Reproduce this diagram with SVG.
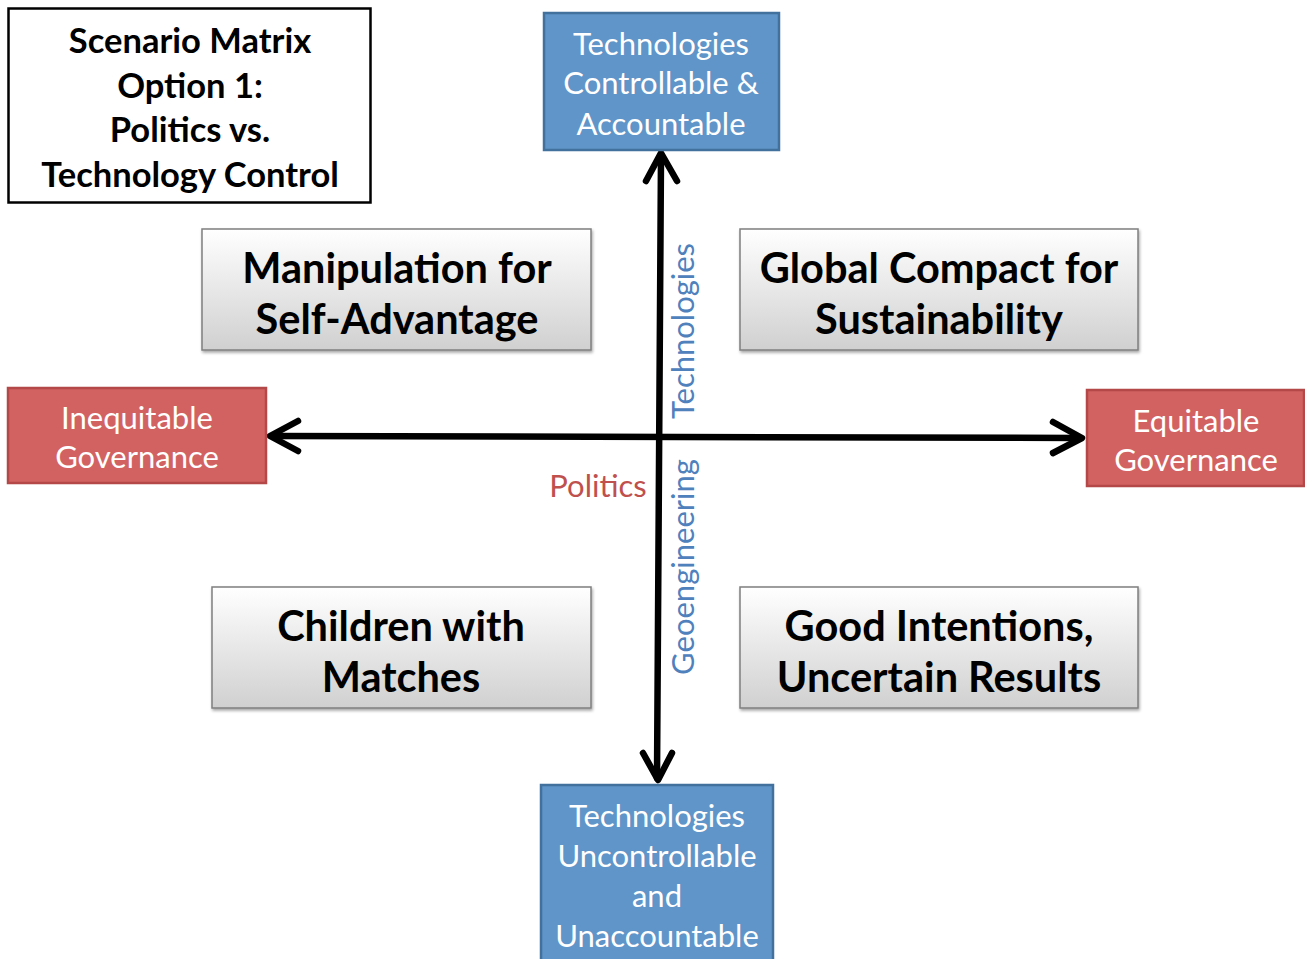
<svg xmlns="http://www.w3.org/2000/svg" width="1305" height="959" viewBox="0 0 1305 959">
<defs>
<linearGradient id="gray" x1="0" y1="0" x2="0" y2="1">
<stop offset="0" stop-color="#FFFFFF"/>
<stop offset="1" stop-color="#D0D0D0"/>
</linearGradient>
<filter id="sh" x="-5%" y="-5%" width="110%" height="115%">
<feDropShadow dx="1" dy="2" stdDeviation="1.5" flood-color="#000" flood-opacity="0.35"/>
</filter>
</defs>
<style>
text{font-family:"Lato","Liberation Sans",sans-serif;text-anchor:middle}
.title{font-size:34.5px;font-weight:bold;fill:#000}
.quad{font-size:41.5px;font-weight:bold;fill:#000}
.lbl{font-size:31px;fill:#FFFFFF}
.blue{fill:#5F95C8;stroke:#41719C;stroke-width:2.5}
.red{fill:#D26262;stroke:#B44848;stroke-width:2.5}
.grayb{fill:url(#gray);stroke:#7F7F7F;stroke-width:1.5}
.axis{font-size:31px}
.conn{stroke:#000;stroke-width:6.5;fill:none;stroke-linecap:round;stroke-linejoin:round}
</style>
<rect width="1305" height="959" fill="#FFFFFF"/>
<g id="connectors">
<line class="conn" x1="272" y1="436" x2="1080" y2="438"/>
<line class="conn" x1="661" y1="156" x2="657" y2="778"/>
<polyline class="conn" points="298,421 270,436 298,451"/>
<polyline class="conn" points="1053,422 1082,438 1053,453"/>
<polyline class="conn" points="646,181 661,153 677,181"/>
<polyline class="conn" points="643,753 658,780 672,753"/>
</g>
<g id="title">
<rect x="8.5" y="8.5" width="362" height="194" fill="#FFFFFF" stroke="#000" stroke-width="2.5"/>
<text class="title" x="190" y="53">Scenario Matrix</text>
<text class="title" x="190" y="98">Option 1:</text>
<text class="title" x="190" y="142">Politics vs.</text>
<text class="title" x="190" y="187">Technology Control</text>
</g>
<g id="top-node">
<rect class="blue" x="544" y="13" width="235" height="137"/>
<text class="lbl" x="661" y="55">Technologies</text>
<text class="lbl" x="661" y="94">Controllable &amp;</text>
<text class="lbl" x="661" y="135">Accountable</text>
</g>
<g id="bottom-node">
<rect class="blue" x="541" y="785" width="232" height="190"/>
<text class="lbl" x="657" y="827">Technologies</text>
<text class="lbl" x="657" y="867">Uncontrollable</text>
<text class="lbl" x="657" y="907">and</text>
<text class="lbl" x="657" y="947">Unaccountable</text>
</g>
<g id="left-node">
<rect class="red" x="8" y="388" width="258" height="95"/>
<text class="lbl" x="137" y="429">Inequitable</text>
<text class="lbl" x="137" y="468">Governance</text>
</g>
<g id="right-node">
<rect class="red" x="1087" y="390" width="217" height="96"/>
<text class="lbl" x="1196" y="432">Equitable</text>
<text class="lbl" x="1196" y="471">Governance</text>
</g>
<g id="q-manipulation">
<rect class="grayb" x="202" y="229" width="389" height="121" filter="url(#sh)"/>
<text class="quad" x="397" y="283">Manipulation for</text>
<text class="quad" x="397" y="334">Self-Advantage</text>
</g>
<g id="q-global">
<rect class="grayb" x="740" y="229" width="398" height="121" filter="url(#sh)"/>
<text class="quad" x="939" y="283">Global Compact for</text>
<text class="quad" x="939" y="334">Sustainability</text>
</g>
<g id="q-children">
<rect class="grayb" x="212" y="587" width="379" height="121" filter="url(#sh)"/>
<text class="quad" x="401" y="641">Children with</text>
<text class="quad" x="401" y="692">Matches</text>
</g>
<g id="q-good">
<rect class="grayb" x="740" y="587" width="398" height="121" filter="url(#sh)"/>
<text class="quad" x="939" y="641">Good Intentions,</text>
<text class="quad" x="939" y="692">Uncertain Results</text>
</g>
<g id="axis-labels">
<text class="axis" x="598" y="497" fill="#C0504D">Politics</text>
<text class="axis" fill="#4F81BD" transform="translate(694,331) rotate(-90)">Technologies</text>
<text class="axis" fill="#4F81BD" transform="translate(694,567) rotate(-90)">Geoengineering</text>
</g>
</svg>
